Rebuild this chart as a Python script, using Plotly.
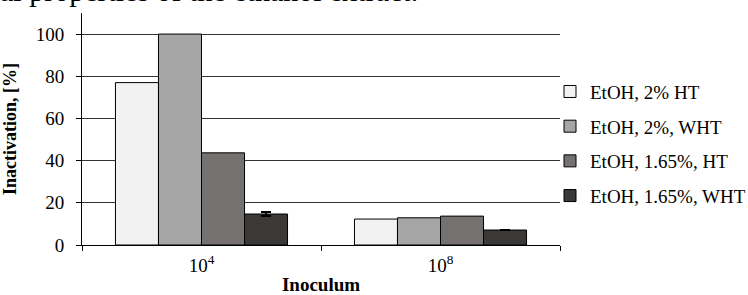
import plotly.graph_objects as go

categories = ["10<sup>4</sup>", "10<sup>8</sup>"]
series_names = ["EtOH, 2% HT", "EtOH, 2%, WHT", "EtOH, 1.65%, HT", "EtOH, 1.65%, WHT"]
s1 = [77, 12.3]
s2 = [100, 12.9]
s3 = [43.7, 13.7]
s4 = [14.7, 7.1]
s4_err = [1.0, None]
colors = ["#f2f2f2", "#a6a6a6", "#767171", "#3b3838"]

serif = "Liberation Serif, Times New Roman, serif"

L, R, T, B = 82, 188, 13, 50
PW, PH = 748 - L - R, 295 - T - B

fig = go.Figure()
for i, (name, vals) in enumerate(zip(series_names, [s1, s2, s3, s4])):
    kw = {}
    if i == 3:
        kw["error_y"] = dict(type="data", array=s4_err, visible=True,
                             color="#000000", thickness=2, width=5)
    fig.add_trace(go.Bar(
        x=categories, y=vals, name=name,
        marker=dict(color=colors[i], line=dict(color="#000000", width=1)),
        legendgroup=f"g{i}", **kw))

fig.update_layout(
    width=748, height=295,
    margin=dict(l=L, r=R, t=T, b=B, autoexpand=False),
    paper_bgcolor="white", plot_bgcolor="white",
    barmode="group", bargap=0.28, bargroupgap=0,
    font=dict(family=serif, size=19, color="#000000"),
    showlegend=True,
    legend=dict(x=(550 - L) / PW, xanchor="left", y=0.743, yanchor="top",
                traceorder="grouped", tracegroupgap=7,
                font=dict(family=serif, size=19, color="#000000"),
                itemwidth=30, bgcolor="rgba(0,0,0,0)"),
    xaxis=dict(
        automargin=False,
        showline=True, linecolor="#000000", linewidth=1,
        ticks="outside", ticklen=5, tickcolor="#000000", tickson="boundaries",
        ticklabelstandoff=3,
        tickfont=dict(family=serif, size=19),
        title=dict(text="<b>Inoculum</b>", font=dict(family=serif, size=19), standoff=8),
    ),
    yaxis=dict(
        automargin=False,
        range=[0, 110], tickvals=[0, 20, 40, 60, 80, 100],
        showline=True, linecolor="#000000", linewidth=1,
        showgrid=True, gridcolor="#333333", gridwidth=1,
        ticks="outside", ticklen=5, tickcolor="#000000",
        ticklabelstandoff=8,
        tickfont=dict(family=serif, size=19),
        zeroline=False,
        title=dict(text="<b>Inactivation, [%]</b>", font=dict(family=serif, size=18), standoff=14),
    ),
    annotations=[dict(
        text="al properties of the ethanol extract.",
        xref="paper", yref="paper", x=-(L + 2) / PW, xanchor="left",
        y=1 + (T - 9) / PH, yanchor="bottom", showarrow=False,
        font=dict(family=serif, size=30, color="#000000"))],
)

fig.write_html("out.html",
               config={"displayModeBar": False},
               post_script="document.body.style.margin='0';document.body.style.overflow='hidden';")
